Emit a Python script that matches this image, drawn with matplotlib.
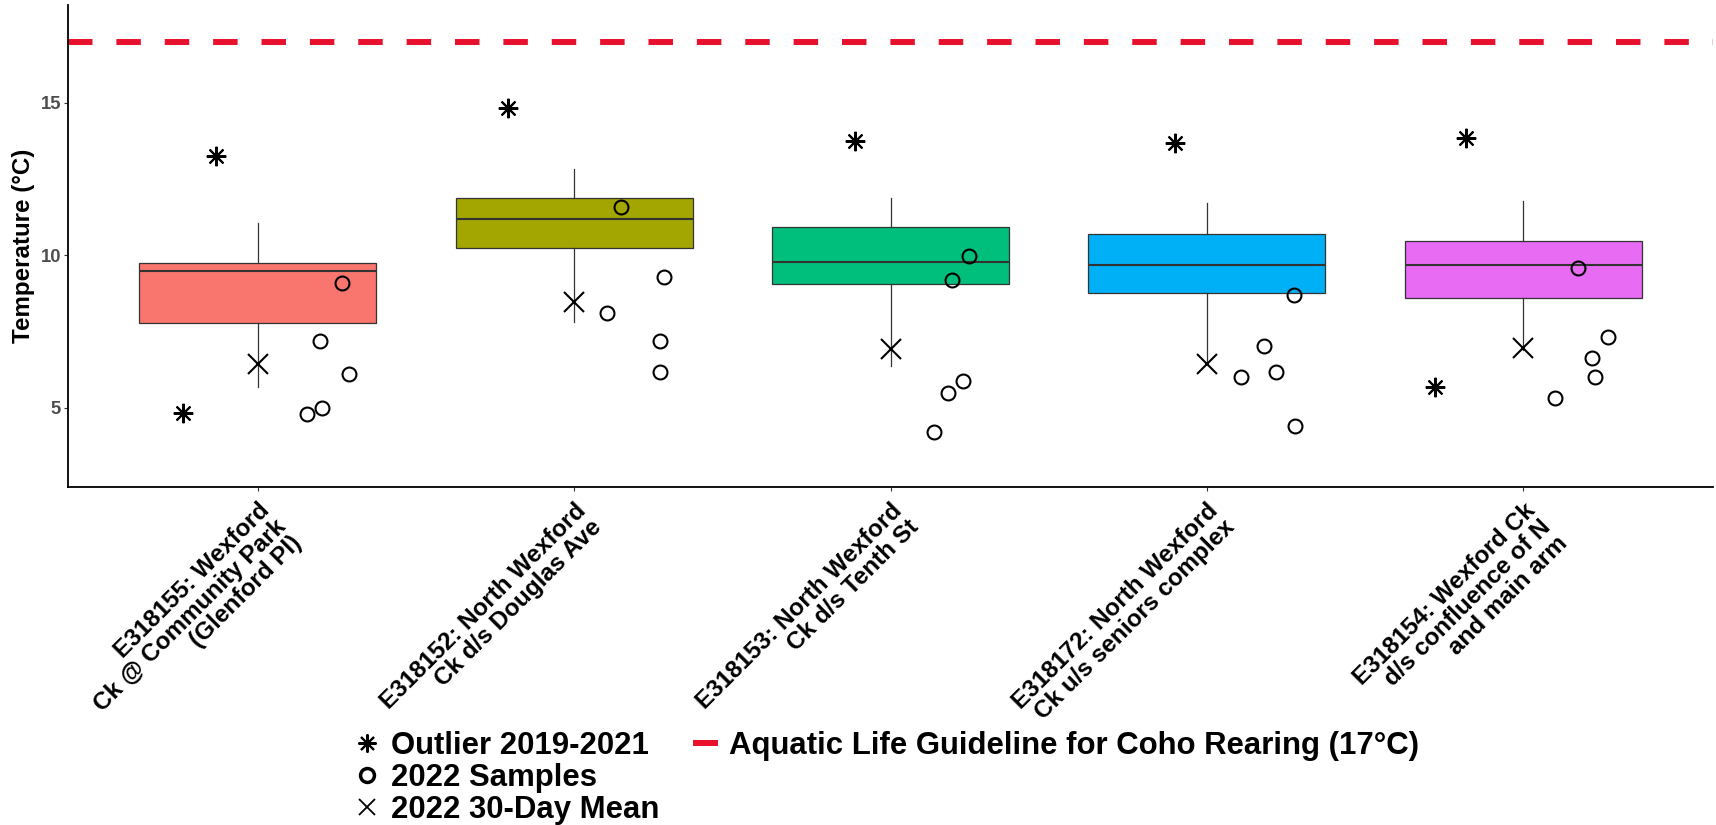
import numpy as np
import matplotlib
matplotlib.use("Agg")
import matplotlib.pyplot as plt
import matplotlib.transforms as mtransforms
from matplotlib.lines import Line2D

plt.rcParams['font.family'] = ['Liberation Sans', 'DejaVu Sans']
plt.rcParams['font.weight'] = 'bold'

# sites along the x axis
sites = ["E318155: Wexford\nCk @ Community Park\n(Glenford Pl)",
         "E318152: North Wexford\nCk d/s Douglas Ave",
         "E318153: North Wexford\nCk d/s Tenth St",
         "E318172: North Wexford\nCk u/s seniors complex",
         "E318154: Wexford Ck\nd/s confluence of N\nand main arm"]
box_colors = ["#F8766D", "#A3A500", "#00BF7D", "#00B0F6", "#E76BF3"]

# 2019-2021 box statistics (degC)
whis_lo = [5.68, 7.81, 6.38, 6.45, 6.90]
box_q1 = [7.80, 10.26, 9.06, 8.76, 8.60]
box_med = [9.49, 11.20, 9.80, 9.70, 9.70]
box_q3 = [9.74, 11.88, 10.94, 10.70, 10.48]
whis_hi = [11.08, 12.83, 11.88, 11.71, 11.79]

# outliers 2019-2021
out_site = [0, 0, 1, 2, 3, 4, 4]
out_temp = [13.27, 4.83, 14.85, 13.76, 13.68, 13.86, 5.70]
out_jit = [-0.133, -0.235, -0.209, -0.113, -0.102, -0.182, -0.279]

# 2022 grab samples
sample_site = [0]*5 + [1]*5 + [2]*5 + [3]*5 + [4]*5
sample_temp = [9.09, 7.21, 6.10, 4.79, 5.00,
               11.60, 9.29, 8.10, 7.21, 6.19,
               9.99, 9.19, 5.90, 5.50, 4.20,
               8.70, 7.03, 6.19, 6.01, 4.42,
               9.60, 7.32, 6.63, 6.03, 5.32]
sample_jit = [0.265, 0.198, 0.288, 0.155, 0.203,
              0.148, 0.285, 0.103, 0.272, 0.272,
              0.249, 0.195, 0.230, 0.182, 0.138,
              0.277, 0.180, 0.219, 0.109, 0.280,
              0.174, 0.269, 0.219, 0.227, 0.099]

# 2022 30-day mean
mean_30day = [6.44, 8.47, 6.93, 6.44, 6.96]

guideline = 17
guide_color = "#E8112D"

fig = plt.figure(figsize=(17.16, 8.25), dpi=100)
ax = fig.add_axes([68/1716, 1 - 487/825, (1713 - 68)/1716, (487 - 5)/825])

pos = np.arange(1, len(sites) + 1)
stats = []
for i in range(len(sites)):
	stats.append({'med': box_med[i], 'q1': box_q1[i], 'q3': box_q3[i],
	              'whislo': whis_lo[i], 'whishi': whis_hi[i], 'fliers': []})
bp = ax.bxp(stats, positions=pos, widths=0.75, patch_artist=True,
            showfliers=False, showcaps=False,
            boxprops=dict(edgecolor="#333333", linewidth=0.9),
            medianprops=dict(color="#333333", linewidth=1.5),
            whiskerprops=dict(color="#333333", linewidth=0.9),
            zorder=2)
for patch, c in zip(bp['boxes'], box_colors):
	patch.set_facecolor(c)

ax.axhline(guideline, color=guide_color, linewidth=4.3, dashes=(4.1, 4.0), zorder=1)

ax.plot(np.array(out_site) + 1 + np.array(out_jit), out_temp, linestyle='none',
        marker=(8, 2, 0), markersize=14, markeredgewidth=1.5, color='black', zorder=3)
ax.plot(np.array(sample_site) + 1 + np.array(sample_jit), sample_temp, linestyle='none',
        marker='o', markersize=10, markeredgewidth=1.5, markerfacecolor='none',
        markeredgecolor='black', zorder=3)
ax.plot(pos, mean_30day, linestyle='none', marker='x', markersize=14,
        markeredgewidth=1.5, color='black', zorder=3)

ax.set_xlim(0.4, 5.6)
ax.set_ylim(2.41, 18.21)
ax.set_yticks([5, 10, 15])
ax.set_xticks(pos)
ax.set_xticklabels(sites, rotation=45, ha='right', va='top', rotation_mode='anchor',
                   fontsize=17.5, fontweight='bold', color='black', linespacing=1.0)
for lab in ax.get_xticklabels():
	lab.set_transform(lab.get_transform() + mtransforms.ScaledTranslation(0.11, 0, fig.dpi_scale_trans))
ax.tick_params(axis='x', length=3, width=0.8, color='#333333', pad=5.5)
ax.tick_params(axis='y', length=3, width=0.8, color='#333333', pad=2,
               labelsize=13.3, labelcolor='#4D4D4D')
for s in ['top', 'right']:
	ax.spines[s].set_visible(False)
for s in ['left', 'bottom']:
	ax.spines[s].set_linewidth(1.3)

fig.text(24/1716, 1 - 246/825, "Temperature (°C)", rotation=90, ha='center', va='center',
         fontsize=17.4, fontweight='bold')

handles = [Line2D([], [], linestyle='none', marker=(8, 2, 0), markersize=13, markeredgewidth=1.5, color='black'),
           Line2D([], [], linestyle='none', marker='o', markersize=10, markeredgewidth=2.5,
                  markerfacecolor='none', markeredgecolor='black'),
           Line2D([], [], linestyle='none', marker='x', markersize=12, markeredgewidth=1.3, color='black'),
           Line2D([], [], color=guide_color, linewidth=4.3),
           Line2D([], [], linestyle='none'),
           Line2D([], [], linestyle='none')]
labels = ["Outlier 2019-2021", "2022 Samples", "2022 30-Day Mean",
          "Aquatic Life Guideline for Coho Rearing (17°C)", "", ""]
fig.legend(handles, labels, ncol=2, loc='upper left', bbox_to_anchor=(358/1716, 1 - 731/825),
           frameon=False, handlelength=0.6, handletextpad=0.45,
           columnspacing=1.2, labelspacing=0.07, borderpad=0, borderaxespad=0,
           prop={'weight': 'bold', 'size': 22.4})

fig.savefig("out.png", dpi=100)
